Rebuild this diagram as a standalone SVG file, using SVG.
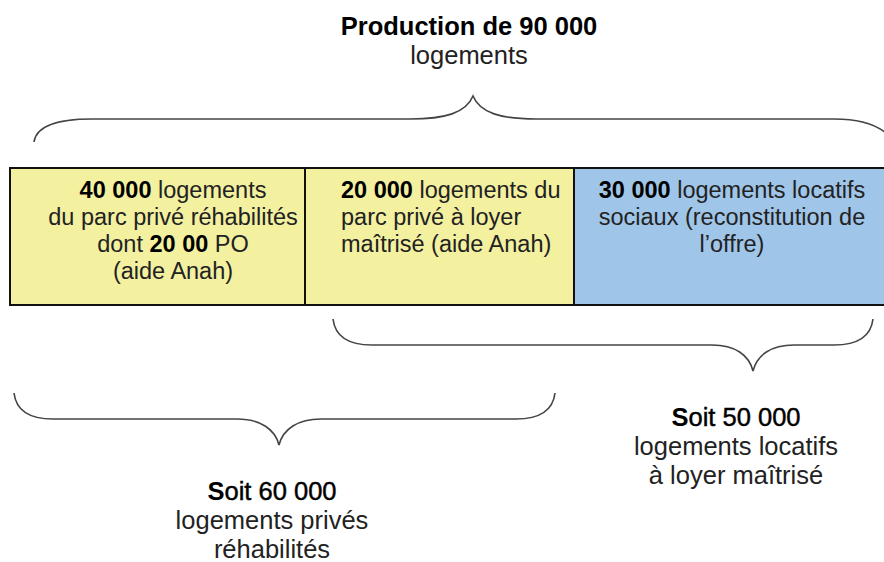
<svg xmlns="http://www.w3.org/2000/svg" width="884" height="562" viewBox="0 0 884 562">
  <style>
    text { font-family: "Liberation Sans", Arial, sans-serif; fill: #222; }
    .lg { font-size: 25.5px; text-anchor: middle; }
    .sm { font-size: 23.5px; }
    .mid { text-anchor: middle; }
    .b { font-weight: bold; fill: #000; }
    .semi { fill: #000; stroke: #000; stroke-width: 0.45; }
    .cell { stroke: #111; stroke-width: 2; }
    .brace { fill: none; stroke: #444; stroke-width: 1.6; }
  </style>

  <!-- title -->
  <g id="title">
    <text class="lg" x="469" y="35"><tspan class="b">Production de 90 000</tspan></text>
    <text class="lg" x="469" y="64">logements</text>
  </g>

  <!-- braces -->
  <g id="connectors">
    <path class="brace" d="M 34,142 C 36,127 55,119 92,119 L 410,119 C 445,119 466,113 473,96 C 480,113 501,119 536,119 L 834,119 C 865,119 884,127 894,142"/>
    <path class="brace" d="M 333,319 C 335,336 348,345 372,345 L 712,345 C 735,345 749,355 753,371 C 757,355 771,345 794,345 L 834,345 C 858,345 871,336 873,319"/>
    <path class="brace" d="M 14,393 C 16,410 29,419 53,419 L 237,419 C 260,419 275,429 279,445 C 283,429 298,419 321,419 L 516,419 C 540,419 553,410 555,393"/>
  </g>

  <!-- cells -->
  <g id="cell-prive-rehab">
    <rect class="cell" x="10" y="168" width="295" height="137" fill="#F3F0A0"/>
    <text class="sm mid" x="173" y="198"><tspan class="b">40 000</tspan> logements</text>
    <text class="sm mid" x="173" y="225">du parc privé réhabilités</text>
    <text class="sm mid" x="173" y="252">dont <tspan class="b">20 00</tspan> PO</text>
    <text class="sm mid" x="173" y="279">(aide Anah)</text>
  </g>

  <g id="cell-prive-loyer">
    <rect class="cell" x="305" y="168" width="269" height="137" fill="#F3F0A0"/>
    <text class="sm" x="341" y="198"><tspan class="b">20 000</tspan> logements du</text>
    <text class="sm" x="341" y="225">parc privé à loyer</text>
    <text class="sm" x="341" y="252">maîtrisé (aide Anah)</text>
  </g>

  <g id="cell-sociaux">
    <rect class="cell" x="574" y="168" width="330" height="137" fill="#9FC5E8"/>
    <text class="sm mid" x="732" y="198"><tspan class="b">30 000</tspan> logements locatifs</text>
    <text class="sm mid" x="732" y="225">sociaux (reconstitution de</text>
    <text class="sm mid" x="732" y="252">l’offre)</text>
  </g>

  <!-- totals -->
  <g id="total-locatifs">
    <text class="lg" x="736" y="426"><tspan class="b">S</tspan><tspan class="semi">oit 50 000</tspan></text>
    <text class="lg" x="736" y="455">logements locatifs</text>
    <text class="lg" x="736" y="484">à loyer maîtrisé</text>
  </g>

  <g id="total-prives">
    <text class="lg" x="272" y="500"><tspan class="b">S</tspan><tspan class="semi">oit 60 000</tspan></text>
    <text class="lg" x="272" y="529">logements privés</text>
    <text class="lg" x="272" y="558">réhabilités</text>
  </g>
</svg>
